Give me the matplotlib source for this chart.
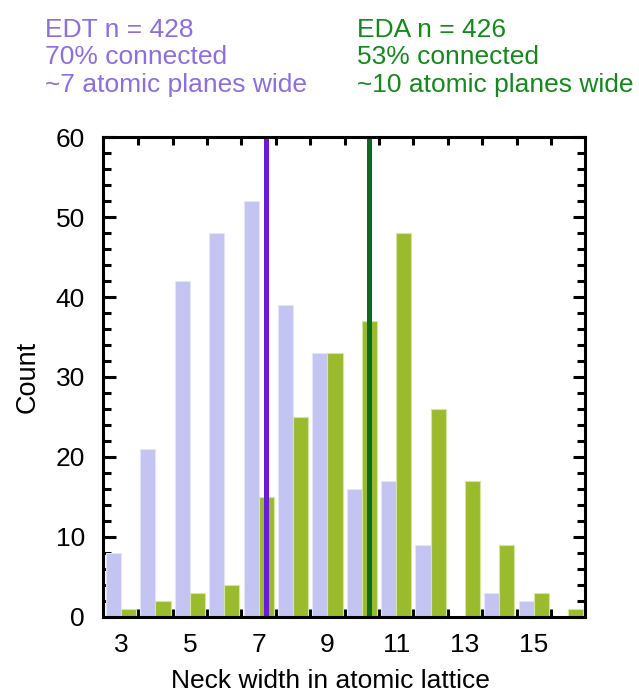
import numpy as np
import matplotlib.pyplot as plt
from matplotlib.ticker import MultipleLocator

plt.rcParams['font.family'] = ['Liberation Sans', 'DejaVu Sans']

# Neck width bins (atomic planes) and counts per ligand
widths = np.arange(3, 17)
edt_counts = [8, 21, 42, 48, 52, 39, 33, 16, 17, 9, 0, 3, 2, 0]
eda_counts = [1, 2, 3, 4, 15, 25, 33, 37, 48, 26, 17, 9, 3, 1]

edt_mean = 7.2
eda_mean = 10.2

edt_text = ['EDT n = 428', '70% connected', '~7 atomic planes wide']
eda_text = ['EDA n = 426', '53% connected', '~10 atomic planes wide']

edt_bar = '#c4c4f2'
eda_bar = '#9bbb2f'
edt_line = '#6a1bd8'
eda_line = '#0b6a1e'
edt_font = '#8d6ee0'
eda_font = '#14891c'

fig = plt.figure(figsize=(6.39, 6.93), dpi=100)
ax = fig.add_axes([0.161, 0.110, 0.755, 0.692])

bw = 0.44
ax.bar(widths - bw / 2, edt_counts, width=bw, color=edt_bar,
       edgecolor='#e4e4fa', linewidth=0.8, zorder=2)
ax.bar(widths + bw / 2, eda_counts, width=bw, color=eda_bar,
       edgecolor='#d4e6a0', linewidth=0.8, zorder=2)

ax.axvline(edt_mean, color=edt_line, linewidth=3.6, zorder=3)
ax.axvline(eda_mean, color=eda_line, linewidth=3.6, zorder=3)

ax.set_xlim(2.47, 16.5)
ax.set_ylim(0, 60)

# tick marks sit on bin edges, labels on odd bin centres
ax.set_xticks(np.arange(3.5, 16, 1.0))
ax.set_xticklabels([])
ax.set_xticks(np.arange(3, 16, 2), minor=True)
ax.set_xticklabels([str(v) for v in range(3, 16, 2)], minor=True)
ax.yaxis.set_major_locator(MultipleLocator(10))
ax.yaxis.set_minor_locator(MultipleLocator(2))

ax.tick_params(axis='x', which='major', direction='in', length=6, width=2.2,
               top=True, bottom=True)
ax.tick_params(axis='x', which='minor', length=0, labelsize=19, pad=12)
ax.tick_params(axis='y', which='major', direction='in', length=9, width=2.2,
               left=True, right=True, labelsize=19, pad=13)
ax.tick_params(axis='y', which='minor', direction='in', length=5.5, width=2.2,
               left=True, right=True)

for s in ax.spines.values():
    s.set_linewidth(2.2)
    s.set_zorder(4)

ax.set_xlabel('Neck width in atomic lattice', fontsize=19, labelpad=8, x=0.471)
ax.set_ylabel('Count', fontsize=19.5, labelpad=11)

for i, (a, b) in enumerate(zip(edt_text, eda_text)):
    y = 1 - (30 + 27.5 * i) / 693
    fig.text(45 / 639, y, a, color=edt_font, fontsize=19, va='center', ha='left')
    fig.text(357 / 639, y, b, color=eda_font, fontsize=19, va='center', ha='left')

fig.savefig('out.png', dpi=100)
